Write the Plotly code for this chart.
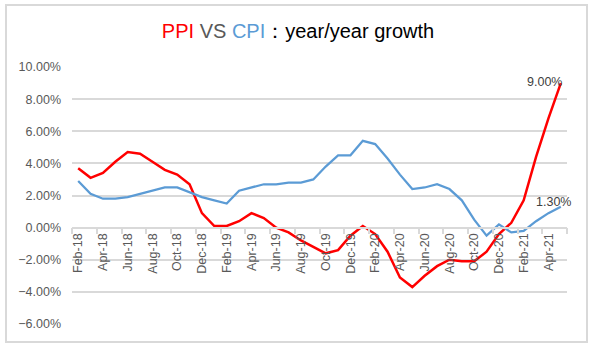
import plotly.graph_objects as go

months = ["Feb-18","Mar-18","Apr-18","May-18","Jun-18","Jul-18","Aug-18","Sep-18","Oct-18","Nov-18","Dec-18",
          "Jan-19","Feb-19","Mar-19","Apr-19","May-19","Jun-19","Jul-19","Aug-19","Sep-19","Oct-19","Nov-19","Dec-19",
          "Jan-20","Feb-20","Mar-20","Apr-20","May-20","Jun-20","Jul-20","Aug-20","Sep-20","Oct-20","Nov-20","Dec-20",
          "Jan-21","Feb-21","Mar-21","Apr-21","May-21"]
ppi = [3.7,3.1,3.4,4.1,4.7,4.6,4.1,3.6,3.3,2.7,0.9,
       0.1,0.1,0.4,0.9,0.6,0.0,-0.3,-0.8,-1.2,-1.6,-1.4,-0.5,
       0.1,-0.4,-1.5,-3.1,-3.7,-3.0,-2.4,-2.0,-2.1,-2.1,-1.5,-0.4,
       0.3,1.7,4.4,6.8,9.0]
cpi = [2.9,2.1,1.8,1.8,1.9,2.1,2.3,2.5,2.5,2.2,1.9,
       1.7,1.5,2.3,2.5,2.7,2.7,2.8,2.8,3.0,3.8,4.5,4.5,
       5.4,5.2,4.3,3.3,2.4,2.5,2.7,2.4,1.7,0.5,-0.5,0.2,
       -0.3,-0.2,0.4,0.9,1.3]
y_ticks = [-6, -4, -2, 0, 2, 4, 6, 8, 10]

ppi_f = [v / 100 for v in ppi]
cpi_f = [v / 100 for v in cpi]

FONT = "Liberation Sans, Arial, sans-serif"
GRID = "#D9D9D9"
LABEL = "#595959"

fig = go.Figure()
fig.add_trace(go.Scatter(x=months, y=ppi_f, mode="lines", name="PPI",
                         line=dict(color="#FF0000", width=2.5)))
fig.add_trace(go.Scatter(x=months, y=cpi_f, mode="lines", name="CPI",
                         line=dict(color="#5B9BD5", width=2.25)))

ymin, ymax = y_ticks[0] / 100, y_ticks[-1] / 100
zero_pos = (0 - ymin) / (ymax - ymin)

fig.update_layout(
    width=596, height=349,
    margin=dict(l=72, r=29, t=67, b=25),
    paper_bgcolor="white", plot_bgcolor="white",
    showlegend=False,
    font=dict(family=FONT, size=12, color=LABEL),
    title=dict(
        text="<span style='color:#FF0000'>PPI</span> <span style='color:#595959'>VS</span> "
             "<span style='color:#5B9BD5'>CPI</span><span style='color:#000000'>：year/year growth</span>",
        x=0.5, xanchor="center", y=1 - 31 / 349, yanchor="middle",
        font=dict(family=FONT, size=20, color="#000000"),
    ),
    xaxis=dict(
        type="category", anchor="free", position=zero_pos,
        tickmode="linear", tick0=0, dtick=2, tickson="boundaries",
        showgrid=False, showline=True, linecolor=GRID, linewidth=1.5,
        ticks="outside", ticklen=6, tickcolor=GRID, tickwidth=1.5,
        tickangle=-90, tickfont=dict(family=FONT, size=12.5, color=LABEL),
        range=[-0.5, len(months) - 0.5], zeroline=False,
    ),
    yaxis=dict(
        range=[ymin, ymax], tickvals=[v / 100 for v in y_ticks], tickformat=".2%",
        showgrid=True, gridcolor=GRID, gridwidth=1.5, zeroline=False,
        showline=False, ticks="", ticklabelstandoff=10,
        tickfont=dict(family=FONT, size=12.5, color=LABEL),
    ),
)

# data labels on last points
fig.add_annotation(x=months[-1], y=ppi_f[-1], text=f"{ppi[-1]:.2f}%", showarrow=False,
                   xanchor="right", yanchor="middle", xshift=3, yshift=1,
                   font=dict(family=FONT, size=12.5, color="#404040"))
fig.add_annotation(x=months[-1], y=cpi_f[-1], text=f"{cpi[-1]:.2f}%", showarrow=False,
                   xanchor="center", yanchor="middle", xshift=-7, yshift=5,
                   font=dict(family=FONT, size=12.5, color="#404040"))

# chart area border
pw, ph = 596 - 72 - 29, 349 - 67 - 25
def px_x(p): return (p - 72) / pw
def px_y(p): return (349 - 25 - p) / ph
fig.add_shape(type="rect", xref="paper", yref="paper",
              x0=px_x(6), x1=px_x(587), y0=px_y(342), y1=px_y(5),
              line=dict(color=GRID, width=2), fillcolor="rgba(0,0,0,0)", layer="below")

fig.write_html("out.html")
